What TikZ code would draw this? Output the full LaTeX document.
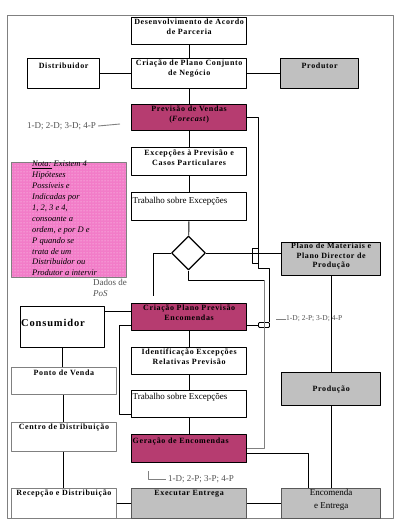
\documentclass[tikz,border=0pt]{standalone}
\usepackage{fontspec}
\setmainfont{Liberation Serif}
\newfontfamily\spacedserif[LetterSpace=8]{Liberation Serif}
\usetikzlibrary{shapes.geometric,patterns}

\definecolor{magbox}{RGB}{182,60,112}
\definecolor{graybox}{RGB}{192,192,192}
\definecolor{notepink}{RGB}{242,124,200}
\definecolor{labelgray}{RGB}{80,80,80}

\newcommand\hdfont{\fontsize{8}{9.5}\spacedserif\bfseries}
\newcommand\rgfont{\fontsize{9}{13}\selectfont}
\newcommand\lbfont{\fontsize{9}{11}\selectfont}

\begin{document}
\begin{tikzpicture}[x=1pt, y=-1pt, line join=round,
  box/.style={draw, line width=1.3pt, anchor=north west, inner sep=0pt},
  thinbox/.style={box, draw=gray, line width=0.8pt},
  head/.style={anchor=north, align=center, inner sep=0pt, font=\hdfont},
  plain/.style={anchor=north west, inner sep=0pt, font=\rgfont},
  note/.style={inner sep=0pt, text=labelgray, font=\lbfont},
  link/.style={line width=0.9pt},
  glink/.style={line width=0.9pt, draw=gray}]
  \useasboundingbox (0,0) rectangle (400,526);
  \draw[gray, line width=0.8pt] (7,15) rectangle (393,518);

  % central column
  \node[box, minimum width=115, minimum height=27] (dev) at (131,17) {};
  \node[head] (dev-t) at ([yshift=-2pt]dev.north) {Desenvolvimento de Acordo\\de Parceria};
  \node[box, minimum width=115, minimum height=30] (conj) at (131,58) {};
  \node[head] (conj-t) at ([yshift=-2pt]conj.north) {Criação de Plano Conjunto\\de Negócio};
  \node[box, minimum width=72, minimum height=30] (dist) at (27,58) {};
  \node[head] (dist-t) at ([yshift=-5pt]dist.north) {Distribuidor};
  \node[box, fill=graybox, minimum width=78, minimum height=30] (prod) at (280,58) {};
  \node[head] (prod-t) at ([yshift=-5pt]prod.north) {Produtor};
  \node[box, fill=magbox, minimum width=115, minimum height=26] (prev) at (131,104) {};
  \node[head] (prev-t) at ([yshift=-2pt]prev.north) {Previsão de Vendas\\(\textit{Forecast})};
  \node[box, minimum width=115, minimum height=28] (exc) at (131,147) {};
  \node[head] (exc-t) at ([yshift=-3pt]exc.north) {Excepções à Previsão e\\Casos Particulares};
  \node[box, minimum width=115, minimum height=28] (trab1) at (131,192) {};
  \node[plain] (trab1-t) at ([shift={(1.5pt,-5pt)}]trab1.north west) {Trabalho sobre Excepções};
  \node[draw, diamond, line width=1.2pt, minimum width=34, minimum height=34, inner sep=0pt] (dec) at (188.5,253) {};

  % note
  \node[box, draw=gray, line width=0.8pt, preaction={fill=notepink}, pattern=dots, pattern color=white!75!notepink,
    minimum width=115, minimum height=115] (nota) at (11,162) {};
  \node[anchor=north west, align=left, inner sep=0pt, font=\fontsize{8.5}{10.9}\selectfont\itshape] (nota-t) at (32,161)
    {\underline{Nota:} Existem 4\\Hipóteses\\Possíveis e\\Indicadas por\\1, 2, 3 e 4,\\consoante a\\ordem, e por D e\\P quando se\\trata de um\\Distribuidor ou\\Produtor a intervir};

  \node[box, fill=graybox, minimum width=99, minimum height=33] (mat) at (281,242) {};
  \node[head] (mat-t) at ([yshift=-1pt]mat.north) {Plano de Materiais e\\Plano Director de\\Produção};

  \node[box, fill=magbox, minimum width=115, minimum height=27] (cprev) at (131,303) {};
  \node[head] (cprev-t) at ([yshift=-2pt]cprev.north) {Criação Plano Previsão\\Encomendas};
  \node[box, minimum width=84, minimum height=41] (cons) at (20,306) {};
  \node[anchor=west, inner sep=0pt, font=\fontsize{10.5}{12}\spacedserif\bfseries] (cons-t) at ([shift={(1pt,4pt)}]cons.west) {Consumidor};
  \node[box, minimum width=115, minimum height=27] (ident) at (131,347) {};
  \node[head] (ident-t) at ([yshift=-2pt]ident.north) {Identificação Excepções\\Relativas Previsão};
  \node[thinbox, minimum width=105, minimum height=27] (pdv) at (11,367) {};
  \node[head] (pdv-t) at ([yshift=-3pt]pdv.north) {Ponto de Venda};
  \node[box, fill=graybox, minimum width=99, minimum height=33] (prod2) at (281,372) {};
  \node[head, anchor=center] (prod2-t) at (prod2.center) {Produção};
  \node[box, minimum width=115, minimum height=27] (trab2) at (131,390) {};
  \node[plain] (trab2-t) at ([shift={(1.5pt,-3pt)}]trab2.north west) {Trabalho sobre Excepções};
  \node[thinbox, minimum width=105, minimum height=29] (cd) at (11,422) {};
  \node[head] (cd-t) at ([yshift=-2pt]cd.north) {Centro de Distribuição};
  \node[box, fill=magbox, minimum width=115, minimum height=28] (ger) at (131,434) {};
  \node[head, anchor=north west] (ger-t) at ([shift={(1.5pt,-4pt)}]ger.north west) {Geração de Encomendas};

  % bottom row
  \node[thinbox, minimum width=105, minimum height=30] (rec) at (11,488) {};
  \node[head] (rec-t) at ([yshift=-2pt]rec.north) {Recepção e Distribuição};
  \node[box, draw=gray!70!black, fill=graybox, minimum width=115, minimum height=30] (exe) at (131,488) {};
  \node[head] (exe-t) at ([yshift=-2pt]exe.north) {Executar Entrega};
  \node[box, draw=gray!70!black, fill=graybox, minimum width=99, minimum height=30] (enc) at (281,488) {};
  \node[anchor=north, align=center, inner sep=0pt, font=\rgfont] (enc-t) at ([yshift=-1.5pt]enc.north) {Encomenda\\e Entrega};

  % small connector plug
  \node[draw, line width=0.9pt, rounded corners=1pt, minimum width=11, minimum height=5, inner sep=0pt, anchor=north west] (plug) at (258,322) {};

  % labels
  \node[note, anchor=west] (lbl-a) at (27,126) {1-D; 2-D; 3-D; 4-P};
  \coordinate (tick-a) at (120,124);
  \node[note, anchor=west, font=\fontsize{7.5}{9}\selectfont] (lbl-b) at (286,319) {1-D; 2-P; 3-D; 4-P};
  \coordinate (tick-b) at (276,319);
  \node[note, anchor=west] (lbl-c) at (168,479) {1-D; 2-P; 3-P; 4-P};
  \coordinate (tick-c) at (148,471);
  \node[note, anchor=north west, align=left, font=\fontsize{9}{11}\selectfont] (pos) at (93,279) {Dados de\\\textit{PoS}};
  \coordinate (pos-end) at (153,296);
  \coordinate (dropr) at (264,280);

  % connectors
  \draw[link] (dev) -- (conj);
  \draw[link] (dist) -- (conj);
  \draw[link] (conj) -- (prod);
  \draw[link] (conj) -- (prev);
  \draw[link] (prev) -- (exc);
  \draw[link] (exc) -- (trab1);
  \draw[link] (trab1) -- (dec);
  \draw[link] (dec.east) -- (dec.east -| mat.west);
  \draw[link] (dec.west) -| (pos-end);
  \draw[link] (dec.south) |- (dropr);
  \draw[glink] (dropr) |- (ger.east);
  \draw[link] ([yshift=-5pt]ger.east) -| ([xshift=-23pt]enc.north);
  \draw[link] (prev.east) -| (258,268) -| (plug.north east);
  \draw[link] (258,248) -- (252,248) -- (252,263) -- (258,263);
  \draw[link] (cprev.east |- plug.west) -- (plug.west);
  \draw[glink] (tick-b) -- (lbl-b.west);
  \draw[glink] ([xshift=2pt]lbl-a.east) -- (tick-a);
  \draw[glink] (tick-c) |- ([xshift=-2pt]lbl-c.west);

  \draw[link] ([yshift=15.5pt]cons.east) -- ([yshift=15.5pt]cons.east -| cprev.west);
  \draw[link] ([yshift=-8pt]cprev.west) -- ++(-12,0) |- ([yshift=-10pt]trab2.west);
  \draw[link] (cprev) -- (ident);
  \draw[link] (ident) -- (trab2);
  \draw[link] (trab2) -- (ger);

  \draw[link] (cons.south) -- (cons.south |- pdv.north);
  \draw[link] (pdv) -- (cd);
  \draw[link] (cd) -- (rec);
  \draw[link] (rec) -- (exe);
  \draw[link] (exe) -- (enc);
  \draw[link] (mat) -- (prod2);
  \draw[link] (prod2) -- (enc);
\end{tikzpicture}
\end{document}
